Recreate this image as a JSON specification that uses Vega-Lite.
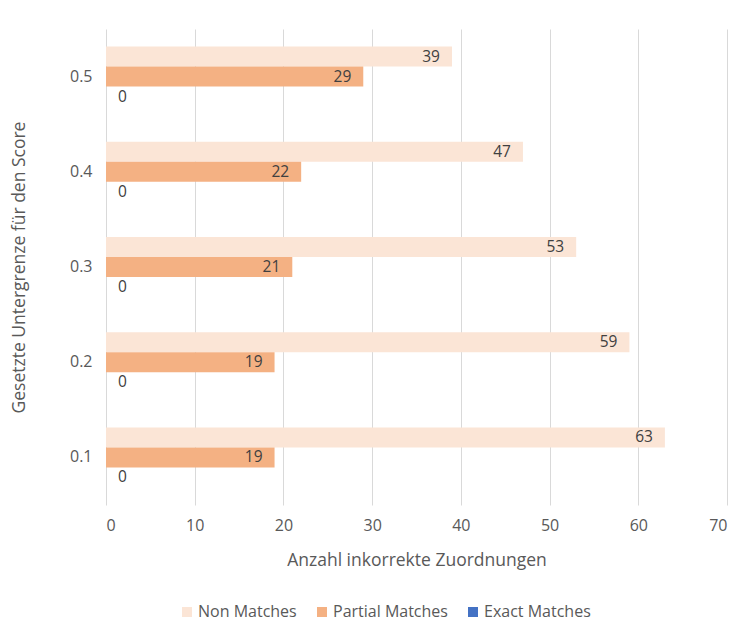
{
  "$schema": "https://vega.github.io/schema/vega-lite/v6.json",
  "width": 621,
  "height": 476,
  "autosize": {"type": "none"},
  "padding": {"left": 106, "top": 29, "right": 21, "bottom": 131},
  "background": "white",
  "config": {
    "font": "Open Sans",
    "view": {"stroke": null},
    "axis": {"labelColor": "#595959", "titleColor": "#595959", "labelFontSize": 16, "titleFontSize": 17.5, "titleFontWeight": "normal", "labelFont": "Open Sans", "titleFont": "Open Sans"},
    "legend": {"labelColor": "#595959", "labelFontSize": 16, "labelFont": "Open Sans"}
  },
  "data": {
    "values": [
      {"score": "0.5", "series": "Non Matches", "count": 39},
      {"score": "0.5", "series": "Partial Matches", "count": 29},
      {"score": "0.5", "series": "Exact Matches", "count": 0},
      {"score": "0.4", "series": "Non Matches", "count": 47},
      {"score": "0.4", "series": "Partial Matches", "count": 22},
      {"score": "0.4", "series": "Exact Matches", "count": 0},
      {"score": "0.3", "series": "Non Matches", "count": 53},
      {"score": "0.3", "series": "Partial Matches", "count": 21},
      {"score": "0.3", "series": "Exact Matches", "count": 0},
      {"score": "0.2", "series": "Non Matches", "count": 59},
      {"score": "0.2", "series": "Partial Matches", "count": 19},
      {"score": "0.2", "series": "Exact Matches", "count": 0},
      {"score": "0.1", "series": "Non Matches", "count": 63},
      {"score": "0.1", "series": "Partial Matches", "count": 19},
      {"score": "0.1", "series": "Exact Matches", "count": 0}
    ]
  },
  "encoding": {
    "y": {
      "field": "score",
      "type": "nominal",
      "sort": ["0.5", "0.4", "0.3", "0.2", "0.1"],
      "scale": {"paddingInner": 0.37, "paddingOuter": 0.185},
      "axis": {
        "title": "Gesetzte Untergrenze für den Score",
        "domain": false,
        "ticks": false,
        "labelPadding": 14,
        "titlePadding": 41
      }
    },
    "yOffset": {
      "field": "series",
      "type": "nominal",
      "sort": ["Non Matches", "Partial Matches", "Exact Matches"]
    },
    "x": {
      "field": "count",
      "type": "quantitative",
      "scale": {"domain": [0, 70], "nice": false},
      "axis": {
        "title": "Anzahl inkorrekte Zuordnungen",
        "values": [0, 10, 20, 30, 40, 50, 60, 70],
        "domain": false,
        "ticks": false,
        "grid": true,
        "gridColor": "#D9D9D9",
        "gridWidth": 1,
        "labelPadding": 12,
        "titlePadding": 18
      }
    }
  },
  "layer": [
    {
      "mark": {"type": "bar"},
      "encoding": {
        "color": {
          "field": "series",
          "type": "nominal",
          "sort": ["Non Matches", "Partial Matches", "Exact Matches"],
          "scale": {
            "domain": ["Non Matches", "Partial Matches", "Exact Matches"],
            "range": ["#FBE5D6", "#F4B183", "#4472C4"]
          },
          "legend": {
            "title": null,
            "orient": "none",
            "direction": "horizontal",
            "legendX": 73,
            "legendY": 575,
            "symbolType": "square",
            "symbolSize": 100,
            "symbolStrokeWidth": 0,
            "columnPadding": 17,
            "labelOffset": 3
          }
        }
      }
    },
    {
      "transform": [{"filter": "datum.count > 0"}],
      "mark": {"type": "text", "align": "right", "baseline": "middle", "dx": -12, "fontSize": 15.5, "color": "#404040"},
      "encoding": {"text": {"field": "count", "type": "quantitative"}}
    },
    {
      "transform": [{"filter": "datum.count == 0"}],
      "mark": {"type": "text", "align": "left", "baseline": "middle", "dx": 12, "fontSize": 15.5, "color": "#404040"},
      "encoding": {"text": {"field": "count", "type": "quantitative"}}
    }
  ]
}
